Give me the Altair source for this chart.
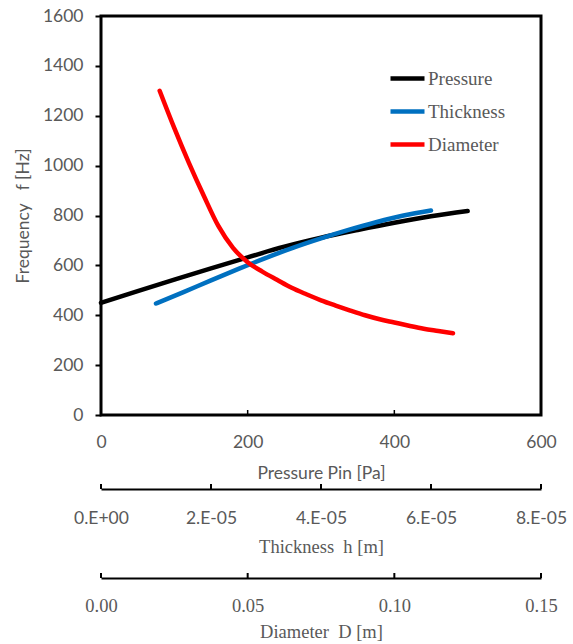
import altair as alt
import pandas as pd

# Frequency against inlet pressure
pressure_pa = [0, 50, 100, 150, 200, 250, 300, 350, 400, 450, 500]
freq_pressure = [450, 497, 543, 588, 632, 675, 711, 742, 771, 797, 818]

# Frequency against membrane thickness
thickness_m = [1.0e-5, 1.5e-5, 2.0e-5, 2.5e-5, 3.0e-5, 3.5e-5,
               4.0e-5, 4.5e-5, 5.0e-5, 5.5e-5, 6.0e-5]
freq_thickness = [447, 493, 540, 586, 630, 671, 708, 742, 773, 800, 820]

# Frequency against diameter
diameter_m = [0.020, 0.025, 0.030, 0.035, 0.040, 0.045, 0.050, 0.055, 0.060,
              0.065, 0.070, 0.075, 0.080, 0.085, 0.090, 0.095, 0.100, 0.105,
              0.110, 0.115, 0.120]
freq_diameter = [1300, 1150, 1010, 880, 758, 670, 613, 575, 542, 510, 484,
                 460, 439, 419, 400, 384, 371, 358, 346, 337, 328]

series_names = ["Pressure", "Thickness", "Diameter"]
series_colors = ["#000000", "#0070C0", "#FF0000"]

freq_ticks = [0, 200, 400, 600, 800, 1000, 1200, 1400, 1600]
pressure_ticks = [0, 200, 400, 600]
thickness_ticks = [0, 2e-5, 4e-5, 6e-5, 8e-5]
thickness_labels = ["0.E+00", "2.E-05", "4.E-05", "6.E-05", "8.E-05"]
diameter_ticks = [0, 0.05, 0.10, 0.15]

W, H = 440, 399
SANS = "Lato"
SERIF = "Liberation Serif"
GREY = "#595959"
NB = "\u00a0"

THICK_OFFSET = 74
DIAM_OFFSET = 163
TICK_LEN = 5

df_p = pd.DataFrame({"P": pressure_pa, "f": freq_pressure, "series": series_names[0]})
df_h = pd.DataFrame({"h": thickness_m, "f": freq_thickness, "series": series_names[1]})
df_d = pd.DataFrame({"D": diameter_m, "f": freq_diameter, "series": series_names[2]})

color = alt.Color(
    "series:N",
    scale=alt.Scale(domain=series_names, range=series_colors),
    legend=alt.Legend(
        title=None, orient="none", legendX=287, legendY=43, direction="vertical",
        symbolType="stroke", symbolSize=1156, symbolStrokeWidth=4.5,
        labelFont=SERIF, labelFontSize=19, labelColor=GREY, labelOffset=1,
        rowPadding=3, padding=0,
    ),
)

y_enc = alt.Y(
    "f:Q",
    scale=alt.Scale(domain=[0, 1600], nice=False),
    axis=alt.Axis(
        values=freq_ticks, format="d", title=f"Frequency{NB}{NB}{NB}f [Hz]",
        domain=False, grid=False,
        tickColor="black", tickWidth=2, tickSize=6, labelPadding=12,
        labelFont=SANS, labelFontSize=17.5, labelColor=GREY,
        titleFont=SANS, titleFontSize=17.5, titleFontWeight="normal", titleColor=GREY,
        titlePadding=10,
    ),
)

x_p = alt.X(
    "P:Q",
    scale=alt.Scale(domain=[0, 600], nice=False),
    axis=alt.Axis(
        values=pressure_ticks, format="d", title="Pressure Pin [Pa]",
        domain=False, ticks=False, grid=False, labelFlush=False, labelOverlap=False,
        labelPadding=18, labelFont=SANS, labelFontSize=17.5, labelColor=GREY,
        titleFont=SANS, titleFontSize=17.5, titleFontWeight="normal", titleColor=GREY,
        titlePadding=14,
    ),
)

label_lookup = "[" + ",".join(f"'{s}'" for s in thickness_labels) + "]"
x_h = alt.X(
    "h:Q",
    scale=alt.Scale(domain=[0, 8e-5], nice=False),
    axis=alt.Axis(
        orient="bottom", offset=THICK_OFFSET, values=thickness_ticks,
        labelExpr=f"{label_lookup}[round(datum.value / {thickness_ticks[1]})]",
        title=f"Thickness{NB}{NB}h [m]", domain=True, domainColor="black", domainWidth=2,
        ticks=False, grid=False, labelFlush=False, labelOverlap=False,
        labelPadding=20, labelFont=SANS, labelFontSize=17.5, labelColor=GREY,
        titleFont=SERIF, titleFontSize=18.5, titleFontWeight="normal", titleColor=GREY,
        titlePadding=11,
    ),
)

x_d = alt.X(
    "D:Q",
    scale=alt.Scale(domain=[0, 0.15], nice=False),
    axis=alt.Axis(
        orient="bottom", offset=DIAM_OFFSET, values=diameter_ticks, format=".2f",
        title=f"Diameter{NB}{NB}D [m]", domain=True, domainColor="black", domainWidth=2,
        ticks=False, grid=False, labelFlush=False, labelOverlap=False,
        labelPadding=18, labelFont=SERIF, labelFontSize=18.5, labelColor=GREY,
        titleFont=SERIF, titleFontSize=18.5, titleFontWeight="normal", titleColor=GREY,
        titlePadding=8,
    ),
)

line_style = dict(strokeWidth=4.5, strokeCap="round", strokeJoin="round", interpolate="monotone")

# pressure curve plus its inward-pointing ticks
p_line = alt.Chart(df_p).mark_line(**line_style).encode(x=x_p, y=y_enc, color=color)
p_ticks = alt.Chart(pd.DataFrame({"P": pressure_ticks[1:-1]})).mark_rule(
    color="black", strokeWidth=1.5
).encode(x=x_p, y=alt.value(H - TICK_LEN), y2=alt.value(H))
p_layer = alt.layer(p_line, p_ticks)

# thickness curve plus ticks on its secondary axis
h_line = alt.Chart(df_h).mark_line(**line_style).encode(x=x_h, y=y_enc, color=color)
h_ticks = alt.Chart(pd.DataFrame({"h": thickness_ticks})).mark_rule(
    color="black", strokeWidth=2
).encode(x=x_h, y=alt.value(H + THICK_OFFSET - TICK_LEN), y2=alt.value(H + THICK_OFFSET))
h_layer = alt.layer(h_line, h_ticks)

# diameter curve plus ticks on its secondary axis
d_line = alt.Chart(df_d).mark_line(**line_style).encode(x=x_d, y=y_enc, color=color)
d_ticks = alt.Chart(pd.DataFrame({"D": diameter_ticks})).mark_rule(
    color="black", strokeWidth=2
).encode(x=x_d, y=alt.value(H + DIAM_OFFSET - TICK_LEN), y2=alt.value(H + DIAM_OFFSET))
d_layer = alt.layer(d_line, d_ticks)

chart = (
    alt.layer(p_layer, h_layer, d_layer)
    .resolve_scale(x="independent", y="shared", color="shared")
    .properties(
        width=W, height=H,
        autosize=alt.AutoSizeParams(type="none"),
        padding={"left": 101, "top": 16, "right": 32, "bottom": 229},
        background="white",
    )
    .configure_view(stroke="black", strokeWidth=3)
)

chart.save("out.html", embed_options={"renderer": "svg", "actions": False})
